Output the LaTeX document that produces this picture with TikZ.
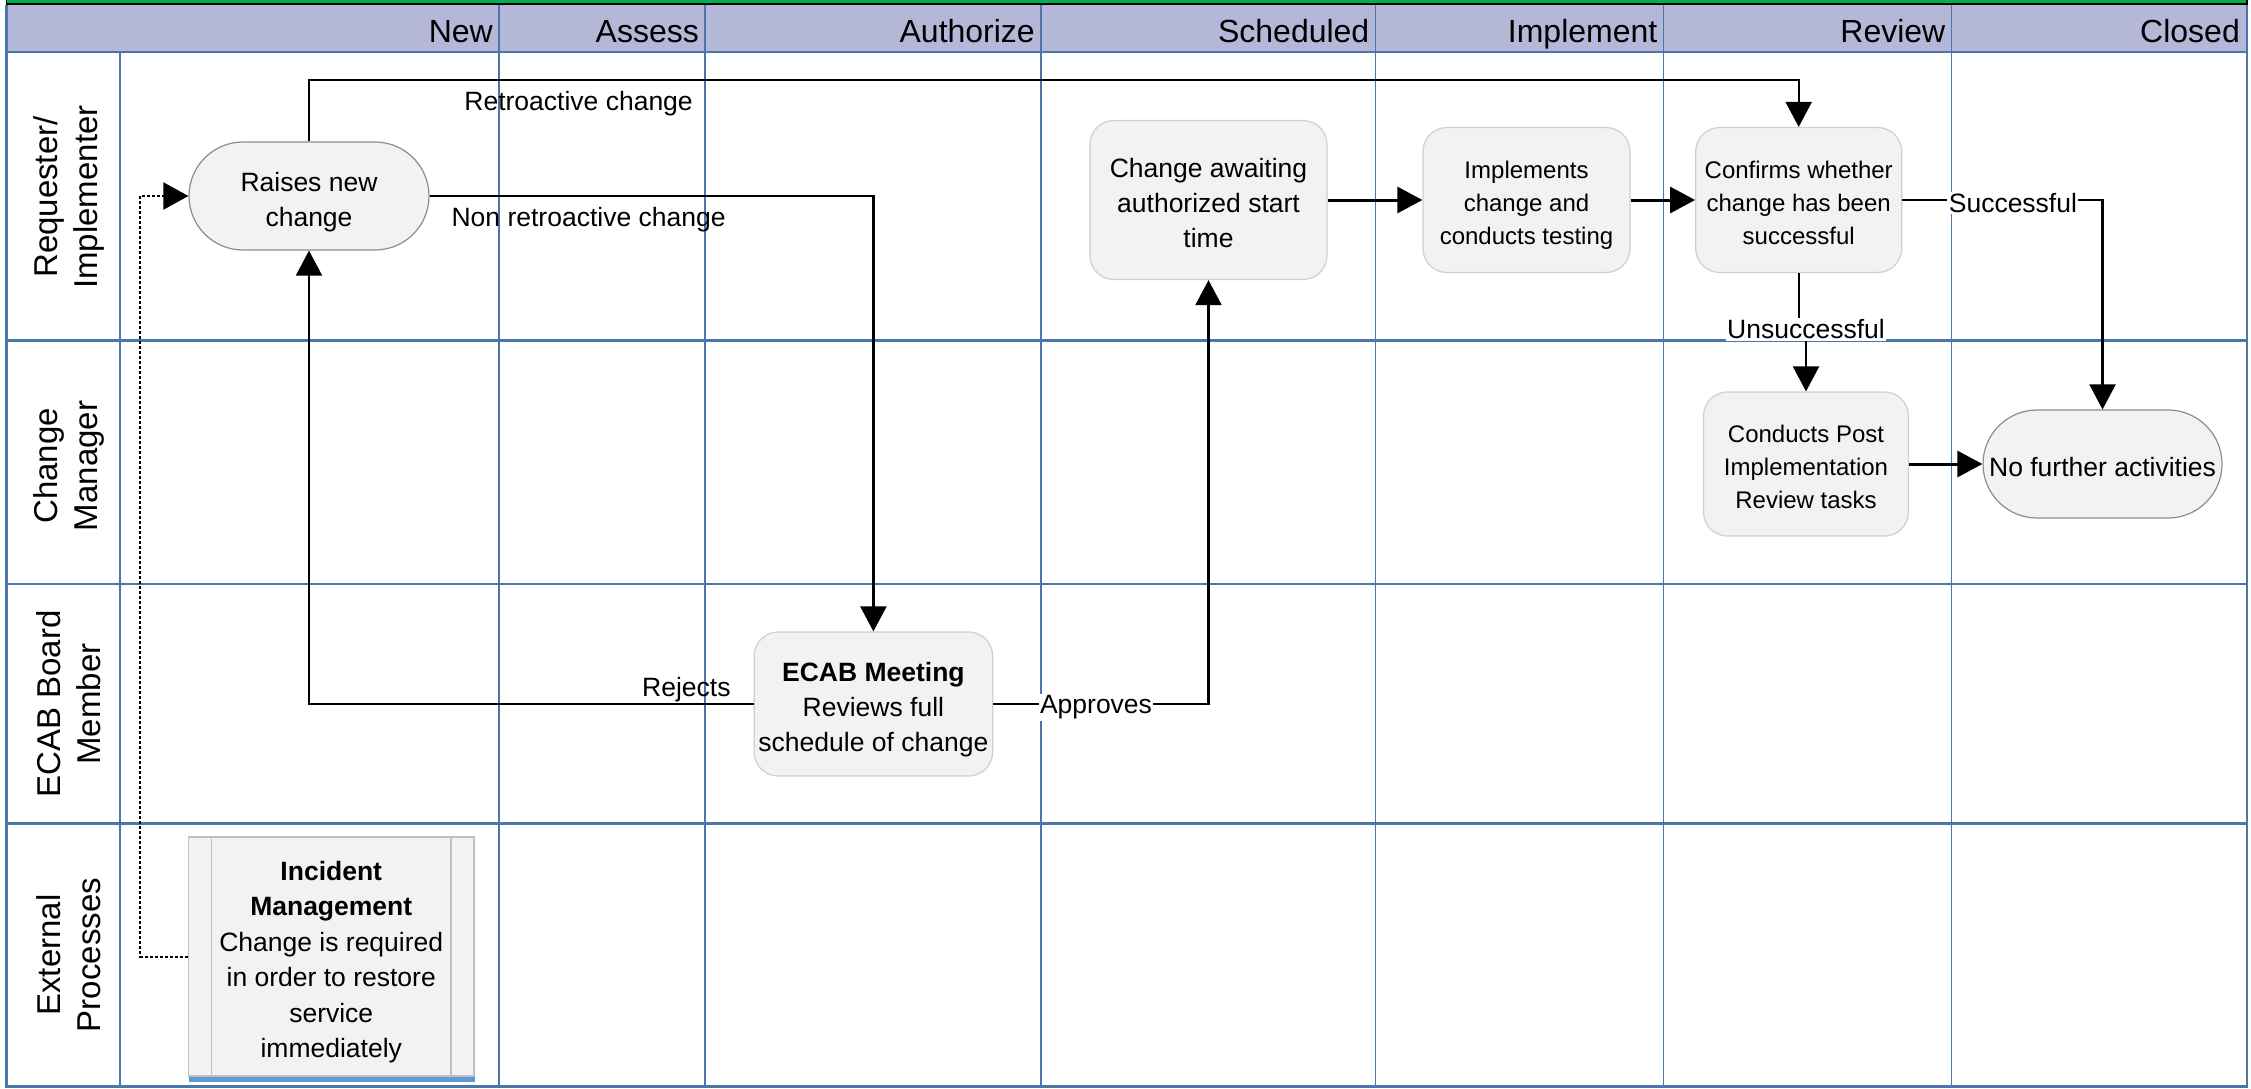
\documentclass[tikz,border=0pt]{standalone}
\usepackage{fontspec}
\setmainfont{Liberation Sans}
\usetikzlibrary{arrows.meta,calc}
\definecolor{hdrfill}{HTML}{B5B7D8}
\definecolor{gridblue}{HTML}{4A76A8}
\definecolor{topgreen}{HTML}{00B050}
\definecolor{boxfill}{HTML}{F2F2F2}
\definecolor{boxline}{HTML}{CFCFCF}
\definecolor{termline}{HTML}{8C8C8C}
\definecolor{incline}{HTML}{BFBFBF}
\definecolor{barblue}{HTML}{5B9BD5}
\newcommand{\fbody}{\fontsize{26.5}{35}\selectfont}
\newcommand{\fsmall}{\fontsize{24}{33}\selectfont}
\newcommand{\fhead}{\fontsize{32}{38}\selectfont}
\newcommand{\flane}{\fontsize{33}{40}\selectfont}
\newcommand{\finc}{\fontsize{26.5}{35.5}\selectfont}
% shifted multi-line node text: #1 = downward shift, #2 = lines
\newcommand{\nodetxt}[2]{\raisebox{-#1}[\height][\depth]{\begin{tabular}{@{}c@{}}#2\end{tabular}}}
\begin{document}
\begin{tikzpicture}[x=1pt,y=-1pt,
  lanerule/.style={draw=gridblue,line width=2.2pt},
  colrule/.style={draw=gridblue,line width=1.4pt},
  hdrtext/.style={anchor=base east,inner sep=0pt,font=\fhead},
  lanetext/.style={rotate=90,align=center,font=\flane,inner sep=0pt},
  proc/.style={draw=boxline,fill=boxfill,line width=1.2pt,rounded corners=24pt,inner sep=0pt,font=\fbody},
  term/.style={draw=termline,fill=boxfill,line width=1.2pt,rounded corners=54pt,inner sep=0pt,font=\fbody},
  incbox/.style={draw=incline,fill=boxfill,line width=1.8pt,inner sep=0pt,font=\finc},
  conn/.style={draw=black,line width=2.2pt,-{Triangle[length=25pt,width=26pt]}},
  shortconn/.style={conn,line width=3pt},
  dotconn/.style={draw=black,line width=2.1pt,dash pattern=on 3pt off 2pt,-{Triangle[length=25pt,width=27pt]}},
  elabel/.style={font=\fbody,inner sep=0pt},
  wlabel/.style={font=\fbody,fill=white,inner sep=1.5pt}
]
\useasboundingbox (0,0) rectangle (2251,1088);
% top strip and header
\filldraw[fill=topgreen,draw=black,line width=1.6pt] (6.5,-4) rectangle (2247,4.2);
\fill[hdrfill] (6.5,5) rectangle (2247,52);
% grid
\foreach \yy in {52,340.5,584,823.5,1086.5} \draw[lanerule] (6.5,\yy) -- (2247,\yy);
\draw[lanerule] (6.5,5) -- (6.5,1087.5);
\draw[lanerule] (2247,5) -- (2247,1087.5);
\foreach \xx in {499,705,1041,1375.5,1663.5,1951.5} \draw[colrule] (\xx,5) -- (\xx,1086.5);
\draw[colrule] (120,52) -- (120,1086.5);
% header texts
\node[hdrtext] (hnew) at (493,42.5) {New};
\node[hdrtext] (hass) at (699,42.5) {Assess};
\node[hdrtext] (haut) at (1035,42.5) {Authorize};
\node[hdrtext] (hsch) at (1369.5,42.5) {Scheduled};
\node[hdrtext] (himp) at (1657.5,42.5) {Implement};
\node[hdrtext] (hrev) at (1945.5,42.5) {Review};
\node[hdrtext] (hclo) at (2240,42.5) {Closed};
% lane texts
\node[lanetext] (l1) at (68.5,197) {Requester/\\Implementer};
\node[lanetext] (l2) at (68.5,466) {Change\\Manager};
\node[lanetext] (l3) at (68.5,704) {ECAB Board\\Member};
\node[lanetext] (l4) at (68.5,955) {External\\Processes};
% nodes
\node[term,minimum width=240pt,minimum height=108pt] (raise) at (309,196) {\nodetxt{6.3pt}{Raises new\\change}};
\node[proc,minimum width=237pt,minimum height=159pt] (await) at (1208.5,200) {\nodetxt{5.5pt}{Change awaiting\\authorized start\\time}};
\node[proc,font=\fsmall,minimum width=207pt,minimum height=145pt] (impl) at (1526.5,200) {\nodetxt{5pt}{Implements\\change and\\conducts testing}};
\node[proc,font=\fsmall,minimum width=206pt,minimum height=145pt] (conf) at (1798.7,200) {\nodetxt{5.2pt}{Confirms whether\\change has been\\successful}};
\node[proc,font=\fsmall,minimum width=205pt,minimum height=144pt] (pir) at (1806,464) {\nodetxt{5pt}{Conducts Post\\Implementation\\Review tasks}};
\node[term,minimum width=239pt,minimum height=108pt] (nofur) at (2102.5,464) {\nodetxt{5.5pt}{No further activities}};
\node[proc,minimum width=238.5pt,minimum height=144pt] (ecab) at (873.4,704) {\nodetxt{5.4pt}{\textbf{ECAB Meeting}\\Reviews full\\schedule of change}};
\node[incbox,minimum width=285.7pt,minimum height=238.7pt] (inc) at (331.25,956.6) {\nodetxt{5.3pt}{\textbf{Incident}\\\textbf{Management}\\Change is required\\in order to restore\\service\\immediately}};
\draw[incline,line width=1.5pt] ($(inc.north west)+(24,0)$) -- ($(inc.south west)+(24,0)$);
\draw[incline,line width=1.5pt] ($(inc.north east)+(-24,0)$) -- ($(inc.south east)+(-24,0)$);
\fill[barblue] ($(inc.south west)+(1,0.5)$) rectangle ($(inc.south east)+(0,5)$);
% helper coordinates
\coordinate (rtop) at (0,80);
\coordinate (dline) at (140,0);
\coordinate (ujog) at (1806,328);
% connectors
\draw[conn] (raise.north) -- (raise.north |- rtop) -- (conf.north |- rtop) -- (conf.north);
\draw[conn] (raise.east) -- (ecab.north |- raise.east) -- (ecab.north);
\draw[conn] (ecab.west) -- (raise.south |- ecab.west) -- (raise.south);
\draw[conn] (ecab.east) -- (await.south |- ecab.east) -- (await.south);
\draw[shortconn] (await.east) -- (impl.west);
\draw[shortconn] (impl.east) -- (conf.west);
\draw[conn] (conf.east) -- (nofur.north |- conf.east) -- (nofur.north);
\draw[conn] (conf.south) -- (conf.south |- ujog) -- (ujog) -- (pir.north);
\draw[shortconn] (pir.east) -- (nofur.west);
\draw[dotconn] (inc.west) -- (inc.west -| dline) -- (raise.west -| dline) -- (raise.west);
% connector labels
\node[elabel] (lretro) at (578.6,103.2) {Retroactive change};
\node[elabel] (lnonretro) at (588.6,219.5) {Non retroactive change};
\node[elabel] (lrej) at (686.4,689.8) {Rejects};
\node[wlabel] (lapp) at (1096,707.5) {Approves};
\node[wlabel] (lsucc) at (2012.9,203) {Successful};
\node[wlabel] (lunsucc) at (1806,329.5) {Unsuccessful};
\end{tikzpicture}
\end{document}
